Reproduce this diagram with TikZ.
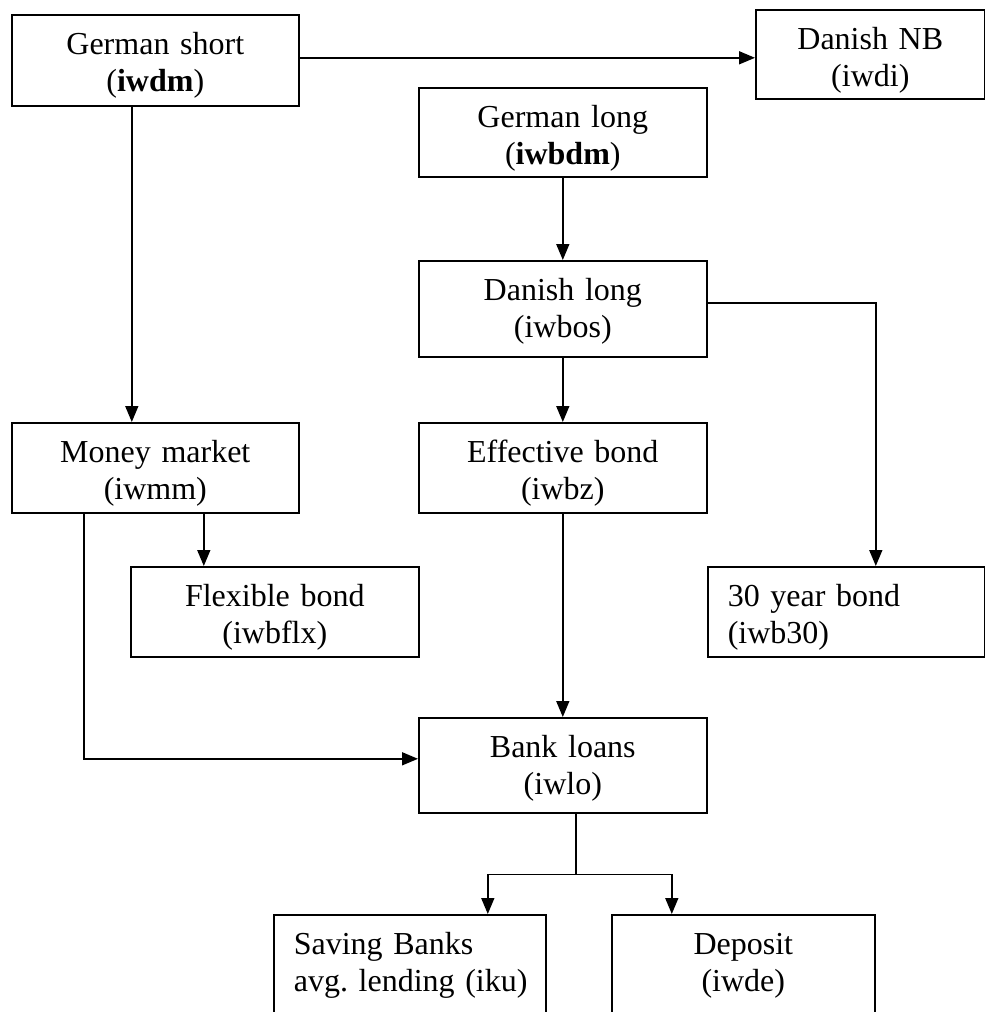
\documentclass[tikz,border=0pt]{standalone}
\usepackage{fontspec}
\setmainfont{Liberation Serif}
\usetikzlibrary{arrows.meta}

\begin{document}
\begin{tikzpicture}[x=0.5pt,y=-0.5pt,
    box/.style={draw,line width=0.8pt,anchor=north west,inner xsep=10pt,inner ysep=0pt,align=center,text height=19.75pt,text depth=25.25pt,font=\fontsize{16}{18.4}\selectfont\frenchspacing},
    arr/.style={line width=0.8pt,-{Triangle[length=8pt,width=6.5pt]}}]
            \useasboundingbox (0,0) rectangle (985,1012);
            \clip (0,0) rectangle (985,1012);

            % Boxen
            \node[box,text width=123.5pt,text depth=25.75pt] (gshort) at (11,14) {German short\\(\textbf{iwdm})};
            \node[box,text width=94.5pt,text depth=24.75pt] (dnb) at (755,9) {Danish NB\\(iwdi)};
            \node[box,text width=124pt,text depth=24.75pt] (glong) at (418,87) {German long\\(\textbf{iwbdm})};
            \node[box,text width=124pt,text depth=28.25pt] (dlong) at (418,260) {Danish long\\(iwbos)};
            \node[box,text width=123.5pt] (mm) at (11,422) {Money market\\(iwmm)};
            \node[box,text width=124pt] (eff) at (418,422) {Effective bond\\(iwbz)};
            \node[box,text width=124pt] (flex) at (130,566) {Flexible bond\\(iwbflx)};
            \node[box,text width=118.5pt,align=left] (y30) at (707,566) {30 year bond\\(iwb30)};
            \node[box,text width=124pt,text depth=27.75pt] (loans) at (418,717) {Bank loans\\(iwlo)};
            \node[box,text width=116pt,text depth=35.25pt,align=left] (saving) at (273,914) {Saving Banks\\\mbox{avg. lending (iku)}};
            \node[box,text width=111.5pt,text depth=35.25pt] (deposit) at (611,914) {Deposit\\(iwde)};

            % Pfeile
            \draw[arr] ([yshift=1.25pt]gshort.east) -- ([yshift=1.25pt]gshort.east -| dnb.west);
            \draw[arr] ([xshift=-11.75pt]gshort.south) -- ([xshift=-11.75pt]mm.north);
            \draw[arr] (glong) -- (dlong);
            \draw[arr] (dlong) -- (eff);
            \draw[arr] (eff) -- (loans);
            \draw[arr] ([yshift=3pt]dlong.east) -| ([xshift=14.75pt]y30.north);
            \draw[arr] ([xshift=24.25pt]mm.south) -- ([xshift=24.25pt]mm.south |- flex.north);
            \draw[arr] ([xshift=-35.75pt]mm.south) |- ([yshift=3.25pt]loans.west);

            % Verzweigung
            \coordinate (split) at ([xshift=6.5pt,yshift=-30.5pt]loans.south);
            \draw[line width=0.8pt] (split |- loans.south) -- (split);
            \draw[arr] (split) -| ([xshift=39pt]saving.north);
            \draw[arr] (split) -| ([xshift=-35.75pt]deposit.north);
        \end{tikzpicture}
\end{document}
